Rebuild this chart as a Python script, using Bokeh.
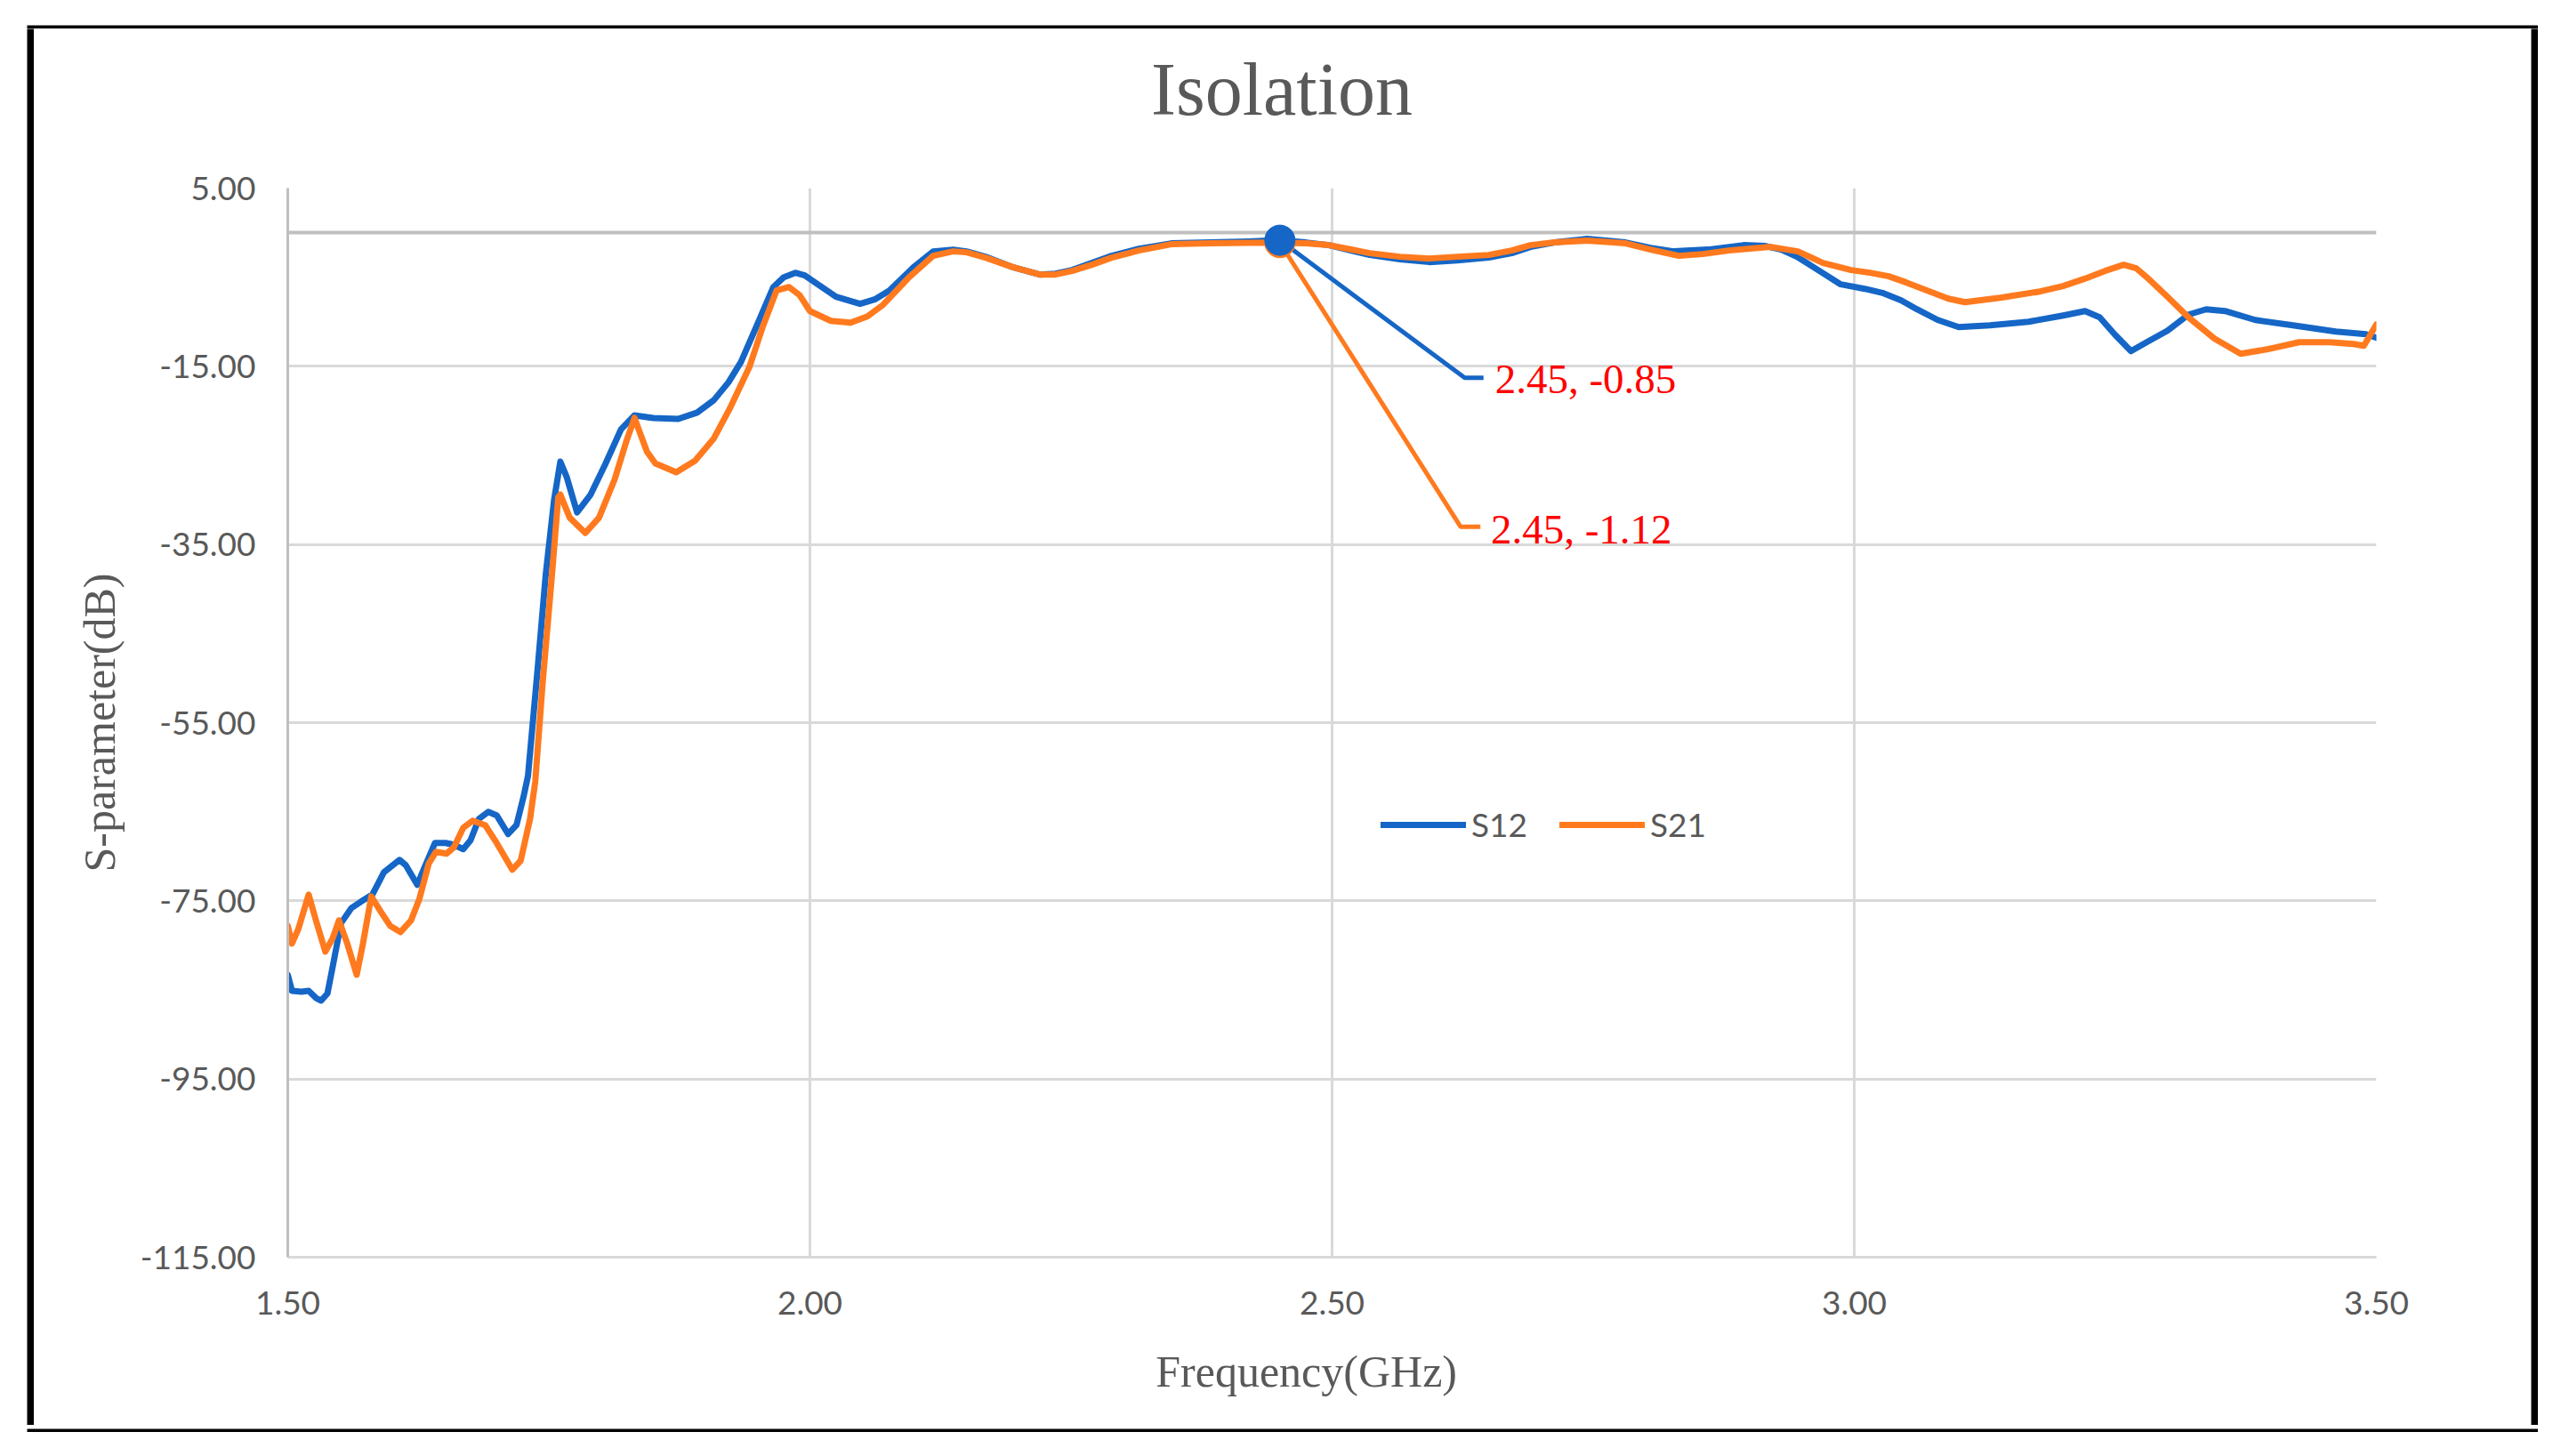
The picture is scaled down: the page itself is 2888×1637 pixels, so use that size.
from bokeh.plotting import figure
from bokeh.layouts import column, row
from bokeh.models import (FixedTicker, PrintfTickFormatter, Span, Label, Legend,
                          LegendItem, Range1d, Spacer)
from bokeh.embed import file_html
from bokeh.resources import INLINE

# ---- data ----
freq_s12 = [1.500, 1.504, 1.513, 1.520, 1.527, 1.532, 1.538, 1.544, 1.551, 1.561,
            1.570, 1.581, 1.592, 1.607, 1.613, 1.624, 1.630, 1.641, 1.651, 1.659,
            1.668, 1.675, 1.683, 1.692, 1.700, 1.711, 1.719, 1.726, 1.730, 1.739,
            1.747, 1.755, 1.761, 1.767, 1.777, 1.790, 1.804, 1.819, 1.832, 1.850,
            1.874, 1.892, 1.908, 1.922, 1.934, 1.950, 1.965, 1.975, 1.986, 1.995,
            2.005, 2.025, 2.048, 2.062, 2.076, 2.100, 2.118, 2.137, 2.150, 2.168,
            2.195, 2.220, 2.235, 2.251, 2.270, 2.289, 2.315, 2.346, 2.384, 2.420,
            2.448, 2.475, 2.497, 2.536, 2.565, 2.593, 2.620, 2.650, 2.672, 2.690,
            2.713, 2.744, 2.781, 2.805, 2.827, 2.860, 2.894, 2.915, 2.930, 2.945,
            2.960, 2.987, 3.010, 3.028, 3.045, 3.060, 3.080, 3.100, 3.130, 3.167,
            3.200, 3.221, 3.235, 3.250, 3.265, 3.280, 3.300, 3.320, 3.337, 3.355,
            3.384, 3.420, 3.461, 3.490, 3.500]
s12 = [-83.3, -85.1, -85.2, -85.1, -85.9, -86.2, -85.4, -81.8, -77.5, -75.8,
       -75.1, -74.3, -71.8, -70.4, -71.0, -73.2, -71.5, -68.5, -68.5, -68.7,
       -69.2, -68.2, -65.8, -65.0, -65.4, -67.5, -66.5, -63.2, -61.0, -49.3,
       -38.4, -30.0, -25.7, -27.4, -31.4, -29.4, -26.0, -22.1, -20.5, -20.8,
       -20.9, -20.2, -18.8, -16.8, -14.5, -10.2, -6.1, -5.0, -4.5, -4.8,
       -5.6, -7.2, -8.0, -7.5, -6.5, -3.8, -2.1, -1.9, -2.1, -2.7,
       -3.9, -4.7, -4.6, -4.2, -3.4, -2.6, -1.8, -1.2, -1.1, -1.0,
       -0.85, -1.1, -1.4, -2.5, -3.0, -3.3, -3.1, -2.8, -2.3, -1.6,
       -1.1, -0.7, -1.1, -1.7, -2.1, -1.9, -1.4, -1.5, -1.9, -2.7,
       -3.8, -5.8, -6.3, -6.8, -7.6, -8.6, -9.8, -10.6, -10.4, -10.0,
       -9.3, -8.8, -9.5, -11.5, -13.3, -12.3, -11.0, -9.2, -8.6, -8.8,
       -9.8, -10.4, -11.1, -11.4, -11.8]

freq_s21 = [1.500, 1.504, 1.510, 1.520, 1.527, 1.536, 1.543, 1.549, 1.557, 1.566,
            1.572, 1.580, 1.589, 1.598, 1.608, 1.618, 1.626, 1.635, 1.642, 1.652,
            1.659, 1.668, 1.677, 1.689, 1.700, 1.715, 1.723, 1.732, 1.737, 1.744,
            1.753, 1.759, 1.761, 1.770, 1.785, 1.798, 1.813, 1.824, 1.832, 1.844,
            1.852, 1.872, 1.890, 1.908, 1.923, 1.942, 1.955, 1.968, 1.980, 1.990,
            2.000, 2.020, 2.039, 2.055, 2.070, 2.095, 2.118, 2.137, 2.150, 2.168,
            2.195, 2.220, 2.235, 2.251, 2.270, 2.289, 2.315, 2.346, 2.384, 2.420,
            2.448, 2.475, 2.497, 2.536, 2.565, 2.593, 2.620, 2.650, 2.672, 2.690,
            2.713, 2.744, 2.781, 2.805, 2.832, 2.855, 2.880, 2.920, 2.946, 2.970,
            2.997, 3.015, 3.033, 3.050, 3.070, 3.090, 3.106, 3.140, 3.178, 3.200,
            3.220, 3.240, 3.258, 3.270, 3.282, 3.300, 3.320, 3.345, 3.370, 3.395,
            3.426, 3.455, 3.478, 3.488, 3.500]
s21 = [-77.8, -79.8, -78.2, -74.3, -77.2, -80.7, -79.2, -77.2, -79.8, -83.3,
       -79.8, -74.5, -76.2, -77.8, -78.5, -77.2, -74.8, -70.8, -69.5, -69.7,
       -69.0, -66.8, -66.0, -66.5, -68.5, -71.5, -70.5, -65.8, -61.6, -50.6,
       -38.4, -29.7, -29.4, -32.0, -33.7, -32.0, -27.7, -23.5, -20.8, -24.6,
       -25.9, -26.9, -25.6, -23.1, -19.8, -15.1, -10.5, -6.5, -6.1, -7.0,
       -8.8, -9.9, -10.1, -9.4, -8.1, -5.0, -2.6, -2.1, -2.2, -2.8,
       -3.9, -4.7, -4.7, -4.3, -3.6, -2.8, -2.0, -1.3, -1.2, -1.15,
       -1.12, -1.2, -1.4, -2.3, -2.7, -2.9, -2.7, -2.5, -2.0, -1.4,
       -1.1, -0.9, -1.2, -1.9, -2.6, -2.4, -2.0, -1.6, -2.1, -3.4,
       -4.2, -4.5, -4.9, -5.6, -6.5, -7.4, -7.8, -7.3, -6.6, -6.0,
       -5.2, -4.3, -3.6, -4.0, -5.2, -7.2, -9.5, -11.9, -13.6, -13.1,
       -12.3, -12.3, -12.5, -12.7, -10.3]

x_ticks = [1.5, 2.0, 2.5, 3.0, 3.5]
y_ticks = [5, -15, -35, -55, -75, -95, -115]

marker_freq = 2.45
marker_s12 = -0.85
marker_s21 = -1.12
label_s12 = "2.45, -0.85"
label_s21 = "2.45, -1.12"

chart_title = "Isolation"
x_title = "Frequency(GHz)"
y_title = "S-parameter(dB)"

BLUE = "#1566C6"
ORANGE = "#FF7A1E"
GREY_TXT = "#595959"

# ---- page geometry (pixels) ----
OUT_L, OUT_T = 30, 24          # white margin outside the black frame
BW = 8                          # black frame width
IN_W, IN_H = 2807, 1570         # inside of the black frame
TITLE_H, XT_H = 130, 102
P_H = IN_H - TITLE_H - XT_H     # main chart figure height
X0, Y0 = OUT_L + BW, OUT_T + BW  # page offset of the inner area
FL, FR, FT, FB = 323, 2671, 211, 1413   # plot frame edges on the page


def bar(w, h):
    b = figure(width=w, height=h, output_backend="svg", toolbar_location=None,
               x_axis_type=None, y_axis_type=None, min_border=0)
    b.background_fill_color = "black"
    b.border_fill_color = "black"
    b.outline_line_color = None
    return b


def text_strip(h, text, cx, cy_from_top, size):
    t = figure(width=IN_W, height=h, output_backend="svg", toolbar_location=None,
               x_axis_type=None, y_axis_type=None, min_border=0,
               x_range=Range1d(0, IN_W), y_range=Range1d(0, h))
    t.background_fill_color = "white"
    t.border_fill_color = "white"
    t.outline_line_color = None
    t.add_layout(Label(x=cx - X0, y=h - cy_from_top, text=text,
                       text_font="Liberation Serif", text_font_size=size,
                       text_color=GREY_TXT, text_align="center",
                       text_baseline="middle"))
    return t


# centres of the texts (strip coordinates shifted to land where the reference has them)
title_fig = text_strip(TITLE_H, chart_title, 1374, 100 - Y0, "84px")
xt_fig = text_strip(XT_H, x_title, 1407, 1541 - (Y0 + TITLE_H + P_H), "50px")

p_top = Y0 + TITLE_H
p = figure(width=IN_W, height=P_H, output_backend="svg", toolbar_location=None,
           x_range=Range1d(1.5, 3.5), y_range=Range1d(-115, 5),
           min_border_left=FL - X0, min_border_right=IN_W - (FR - X0),
           min_border_top=FT - p_top, min_border_bottom=(p_top + P_H) - FB)
p.background_fill_color = "white"
p.border_fill_color = "white"
p.outline_line_color = None

# axes
for ax in (p.xaxis[0], p.yaxis[0]):
    ax.formatter = PrintfTickFormatter(format="%.2f")
    ax.major_tick_line_color = None
    ax.minor_tick_line_color = None
    ax.major_tick_out = 0
    ax.major_tick_in = 0
    ax.minor_tick_out = 0
    ax.major_label_text_font = "Lato"
    ax.major_label_text_font_size = "37px"
    ax.major_label_text_color = GREY_TXT
    ax.axis_label_text_font = "Liberation Serif"
    ax.axis_label_text_font_size = "50px"
    ax.axis_label_text_font_style = "normal"
    ax.axis_label_text_color = GREY_TXT

p.xaxis.ticker = FixedTicker(ticks=x_ticks)
p.yaxis.ticker = FixedTicker(ticks=y_ticks)
p.xgrid.ticker = FixedTicker(ticks=x_ticks)
p.ygrid.ticker = FixedTicker(ticks=y_ticks)
p.yaxis.axis_label = y_title
p.xaxis.major_label_standoff = 38
p.yaxis.major_label_standoff = 36
p.yaxis.axis_label_standoff = 15
p.xaxis.axis_line_color = "#D9D9D9"
p.xaxis.axis_line_width = 3
p.yaxis.axis_line_color = "#BFBFBF"
p.yaxis.axis_line_width = 3

for g in (p.xgrid[0], p.ygrid[0]):
    g.grid_line_color = "#D9D9D9"
    g.grid_line_width = 3

zero = Span(location=0, dimension="width", line_color="#BFBFBF", line_width=4, level="underlay")
p.add_layout(zero)

# curves
r1 = p.line(freq_s12, s12, line_color=BLUE, line_width=7, line_join="round", line_cap="round")
r2 = p.line(freq_s21, s21, line_color=ORANGE, line_width=7, line_join="round", line_cap="round")

# data-label leader lines
p.line([marker_freq, 2.627, 2.645], [marker_s12, -16.3, -16.3], line_color=BLUE, line_width=5)
p.line([marker_freq, 2.623, 2.642], [marker_s21, -33.0, -33.0], line_color=ORANGE, line_width=5)

# markers
p.scatter([marker_freq], [marker_s21], size=34, fill_color=ORANGE, line_color=ORANGE)
p.scatter([marker_freq], [marker_s12], size=34, fill_color=BLUE, line_color=BLUE)

p.add_layout(Label(x=2.656, y=-16.4, text=label_s12, text_color="#FF0000",
                   text_font="Liberation Serif", text_font_size="47px",
                   text_baseline="middle", text_align="left"))
p.add_layout(Label(x=2.652, y=-33.3, text=label_s21, text_color="#FF0000",
                   text_font="Liberation Serif", text_font_size="47px",
                   text_baseline="middle", text_align="left"))

legend = Legend(items=[LegendItem(label="S12", renderers=[r1]),
                       LegendItem(label="S21", renderers=[r2])],
                location=(1229, 464), orientation="horizontal",
                glyph_width=96, glyph_height=40, label_height=40,
                label_standoff=6, spacing=36, padding=0, margin=0,
                border_line_alpha=0, background_fill_alpha=0,
                label_text_font="Lato", label_text_font_size="37px",
                label_text_color=GREY_TXT)
p.add_layout(legend)

inner = column(title_fig, p, xt_fig, spacing=0)
framed = column(bar(IN_W + 2 * BW, BW),
                row(bar(BW, IN_H), inner, bar(BW, IN_H), spacing=0),
                bar(IN_W + 2 * BW, BW), spacing=0)
page = column(Spacer(width=10, height=OUT_T),
              row(Spacer(width=OUT_L, height=10), framed, spacing=0),
              spacing=0)

open("out.html", "w").write(file_html(page, INLINE))
